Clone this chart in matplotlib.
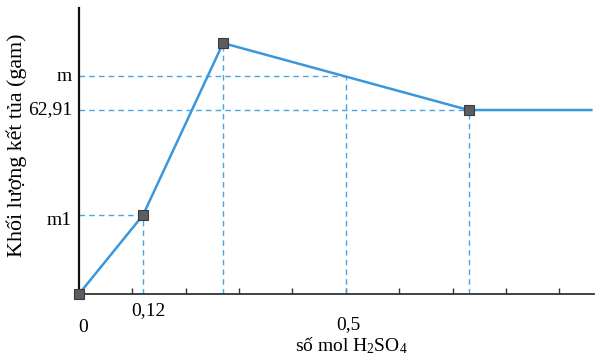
import matplotlib
matplotlib.use("Agg")
import matplotlib.pyplot as plt

plt.rcParams['font.family'] = ['Liberation Serif', 'DejaVu Serif']
plt.rcParams['mathtext.fontset'] = 'custom'
plt.rcParams['mathtext.rm'] = 'Liberation Serif'

# data
x_mol = [0.0, 0.12, 0.27, 0.73, 0.96]
y_mass = [0.0, 27.0, 85.8, 62.91, 62.91]
marker_idx = [0, 1, 2, 3]
m_x = 0.5
m_val = 74.4
y_labels = ["m", "62,91", "m1"]
y_label_vals = [m_val, 62.91, 27.0]
y_label_dy = [0, 0, -4]
x_ticks = [0.1, 0.2, 0.3, 0.4, 0.5, 0.6, 0.7, 0.8, 0.9]

line_c = '#3b97dc'
dash_c = '#4aa6e0'

fig = plt.figure(figsize=(6.08, 3.6), dpi=100)
ax = fig.add_axes([79/608, 66/360, 515/608, 286/360])
ax.set_xlim(0, 0.965)
ax.set_ylim(0, 97.8)

ax.plot(x_mol, y_mass, color=line_c, lw=1.8, zorder=3, clip_on=False)
ax.plot([x_mol[i] for i in marker_idx], [y_mass[i] for i in marker_idx],
        ls='none', marker='s', ms=7, mfc='#5b5d60', mec='#3a3a3a', mew=0.8,
        zorder=5, clip_on=False)

dk = dict(color=dash_c, lw=1.0, ls=(0, (4, 3)), zorder=2)
# horizontals
ax.plot([0, x_mol[1]], [y_mass[1]] * 2, **dk)
ax.plot([0, m_x], [m_val] * 2, **dk)
ax.plot([0, x_mol[3]], [y_mass[3]] * 2, **dk)
# verticals
ax.plot([x_mol[1]] * 2, [0, y_mass[1]], **dk)
ax.plot([x_mol[2]] * 2, [0, y_mass[2]], **dk)
ax.plot([m_x] * 2, [0, m_val], **dk)
ax.plot([x_mol[3]] * 2, [0, y_mass[3]], **dk)

for s in ['top', 'right']:
    ax.spines[s].set_visible(False)
ax.spines['left'].set_linewidth(1.6)
ax.spines['left'].set_color('#111111')
ax.spines['bottom'].set_linewidth(1.3)
ax.spines['bottom'].set_color('#333333')

ax.set_xticks(x_ticks)
ax.tick_params(axis='x', direction='in', length=4, width=1, color='#333333',
               labelbottom=False)
ax.set_yticks([])

fs = 14
for lab, v, dy in zip(y_labels, y_label_vals, y_label_dy):
    ax.annotate(lab, xy=(0, v), xycoords='data', xytext=(-5, dy),
                textcoords='offset points', ha='right', va='center', fontsize=fs)

ax.annotate("0", xy=(0, 0), xytext=(3, -24), textcoords='offset points',
            ha='center', va='center', fontsize=fs)
ax.annotate("0,12", xy=(0.12, 0), xytext=(4, -12), textcoords='offset points',
            ha='center', va='center', fontsize=fs)
ax.annotate("0,5", xy=(0.5, 0), xytext=(2, -22), textcoords='offset points',
            ha='center', va='center', fontsize=fs)

fig.text(351/608, 1 - 346/360, r"số mol $\mathregular{H_2SO_4}$",
         ha='center', va='center', fontsize=fs)
fig.text(17/608, 1 - 145/360, "Khối lượng kết tủa (gam)", rotation=90,
         ha='center', va='center', fontsize=15.8)

fig.savefig("out.png", dpi=100, facecolor='white')
